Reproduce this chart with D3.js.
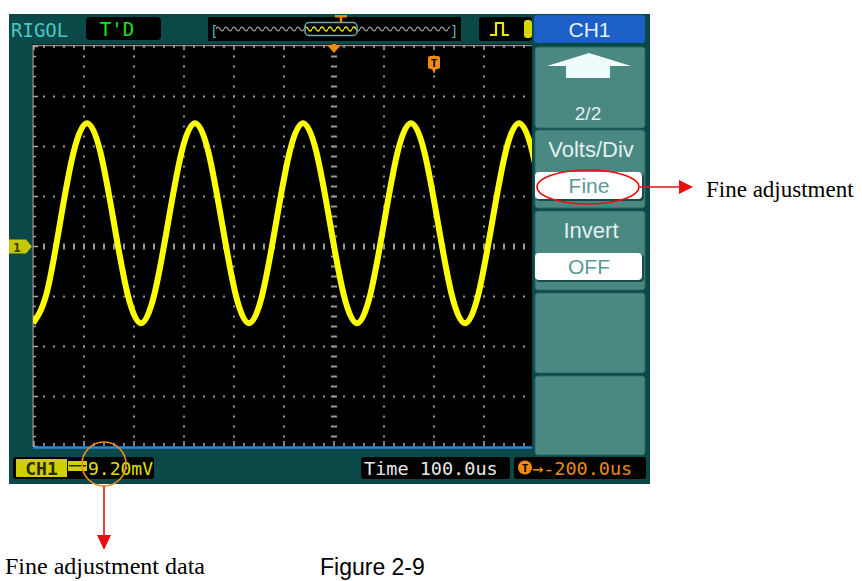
<!DOCTYPE html>
<html><head><meta charset="utf-8">
<script src="https://cdn.jsdelivr.net/npm/d3@7"></script>
<style>body{margin:0;background:#fff}svg{display:block}</style>
</head><body>
<svg id="c" width="862" height="581"></svg>
<script>
// ---- data ----
const timeUs = [-602,-575,-548,-521,-494,-467,-440,-413,-386,-359,-332,-305,-278,-251,-224,-197,-170,-143,-116,-89,-62,-35,-8,19,46,73,100,127,154,181,208,235,262,289,316,343,370,397,424];
const ch1mV  = [-14.1,-8.7,4.3,17.3,22.7,17.3,4.3,-8.7,-14.1,-8.7,4.3,17.3,22.7,17.3,4.3,-8.7,-14.1,-8.7,4.3,17.3,22.7,17.3,4.3,-8.7,-14.1,-8.7,4.3,17.3,22.7,17.3,4.3,-8.7,-14.1,-8.7,4.3,17.3,22.7,17.3,4.3];
const voltsPerDiv = 9.2;      // mV
const timePerDiv = 100;       // us
const hDivs = 12, vDivs = 8;
const menuTitle = "CH1";
const menuItems = [
  {label:"2/2", value:null, arrow:true},
  {label:"Volts/Div", value:"Fine"},
  {label:"Invert", value:"OFF"},
  {label:null, value:null},
  {label:null, value:null}
];
const statusTexts = {ch:"CH1", volts:"9.20mV", time:"Time 100.0us", trig:"\u2192-200.0us", mode:"T'D", brand:"RIGOL"};
const notes = {fine:"Fine adjustment", data:"Fine adjustment data", fig:"Figure 2-9"};

// ---- drawing ----
const svg = d3.select("#c");
const mono = "'DejaVu Sans Mono', monospace";
const sans = "'Liberation Sans', Arial, sans-serif";
const serif = "'Liberation Serif','Times New Roman',serif";

// scope frame
svg.append("rect").attr("x",9).attr("y",14).attr("width",641).attr("height",470).attr("fill","#0b4848");

// grid area
const gx0=34, gy0=46.5, div=50;
const x = d3.scaleLinear().domain([-hDivs/2*timePerDiv, hDivs/2*timePerDiv]).range([gx0, gx0+hDivs*div]);
const y = d3.scaleLinear().domain([-vDivs/2*voltsPerDiv, vDivs/2*voltsPerDiv]).range([gy0+vDivs*div, gy0]);
const visR = 532;
svg.append("rect").attr("x",32).attr("y",44).attr("width",visR-32).attr("height",404).attr("fill","#000");
const defs = svg.append("defs");
defs.append("clipPath").attr("id","gc").append("rect").attr("x",33).attr("y",45).attr("width",visR-33).attr("height",402);

const grid = svg.append("g").attr("clip-path","url(#gc)");
const dotC = "#9a9a9a";
for (let k=1;k<hDivs;k++){
  const xx = x(-hDivs/2*timePerDiv + k*timePerDiv);
  if (xx>visR) continue;
  const center = (k===hDivs/2);
  for (let yy=gy0+10; yy<gy0+vDivs*div; yy+=10){
    if (center) grid.append("rect").attr("x",xx-3).attr("y",yy-1).attr("width",6).attr("height",2).attr("fill",dotC);
    else grid.append("rect").attr("x",xx-1).attr("y",yy-1).attr("width",2).attr("height",2).attr("fill",dotC);
  }
}
for (let k=1;k<vDivs;k++){
  const yy = y(-vDivs/2*voltsPerDiv + k*voltsPerDiv);
  const center = (k===vDivs/2);
  for (let xx=gx0+10; xx<visR; xx+=10){
    if (center) grid.append("rect").attr("x",xx-1).attr("y",yy-3).attr("width",2).attr("height",6).attr("fill",dotC);
    else grid.append("rect").attr("x",xx-1).attr("y",yy-1).attr("width",2).attr("height",2).attr("fill",dotC);
  }
}
// border ruler
svg.append("line").attr("x1",33).attr("x2",33).attr("y1",45).attr("y2",447).attr("stroke","#8a8a8a").attr("stroke-width",1.5);
svg.append("line").attr("x1",33).attr("x2",visR).attr("y1",45.5).attr("y2",45.5).attr("stroke","#8a8a8a").attr("stroke-width",1.5);
for (let xx=gx0; xx<visR; xx+=10){
  const major = ((xx-gx0)%50===0);
  svg.append("rect").attr("x",xx-0.75).attr("y",45).attr("width",1.5).attr("height",major?5:3).attr("fill","#aaa");
  svg.append("rect").attr("x",xx-0.75).attr("y",major?441:443).attr("width",1.5).attr("height",major?5:3).attr("fill","#aaa");
}
for (let yy=gy0; yy<=gy0+vDivs*div; yy+=10){
  const major = ((yy-gy0)%50===0);
  svg.append("rect").attr("x",33).attr("y",yy-0.75).attr("width",major?5:3).attr("height",1.5).attr("fill","#aaa");
}
svg.append("line").attr("x1",33).attr("x2",visR).attr("y1",447.5).attr("y2",447.5).attr("stroke","#2a86e0").attr("stroke-width",2.5);

// waveform
const line = d3.line().x((d,i)=>x(timeUs[i])).y((d,i)=>y(ch1mV[i])).curve(d3.curveNatural);
svg.append("path").attr("clip-path","url(#gc)").attr("d",line(ch1mV))
  .attr("fill","none").attr("stroke","#ffff00").attr("stroke-width",6).attr("stroke-linejoin","round");

// ch1 ground marker
const y0 = y(0);
svg.append("path").attr("d",`M9,${y0-7}H26L32,${y0}L26,${y0+7}H9Z`).attr("fill","#c8c800");
svg.append("text").attr("x",17).attr("y",y0+5).attr("font-family",mono).attr("font-size",13).attr("font-weight","bold").attr("fill","#3a3a00").attr("text-anchor","middle").text("1");

// trigger position marker and T marker
const xc = x(0);
svg.append("path").attr("d",`M${xc-7},45H${xc+7}L${xc},53Z`).attr("fill","#f08a10");
svg.append("rect").attr("x",xc-2).attr("y",44).attr("width",4).attr("height",4).attr("fill","#f08a10");
const xt = x(200);
svg.append("rect").attr("x",xt-6).attr("y",56).attr("width",12).attr("height",13).attr("rx",2).attr("fill","#f08a10");
svg.append("text").attr("x",xt).attr("y",66.5).attr("font-family",mono).attr("font-size",11).attr("font-weight","bold").attr("fill","#000").attr("text-anchor","middle").text("T");
svg.append("path").attr("d",`M${xt-2},69H${xt+2}L${xt},74Z`).attr("fill","#f08a10");

// top bar
svg.append("text").attr("x",11).attr("y",37).attr("font-family",mono).attr("font-size",19).attr("fill","#4cc6c6").text(statusTexts.brand);
svg.append("rect").attr("x",86).attr("y",17).attr("width",75).attr("height",23).attr("rx",4).attr("fill","#000");
svg.append("text").attr("x",117).attr("y",36).attr("font-family",mono).attr("font-size",19).attr("fill","#1ee01e").attr("text-anchor","middle").text(statusTexts.mode);
svg.append("rect").attr("x",208).attr("y",17).attr("width",253).attr("height",24).attr("fill","#000");
const pat = defs.append("pattern").attr("id","wv").attr("patternUnits","userSpaceOnUse").attr("width",8).attr("height",8).attr("x",0).attr("y",25);
pat.append("path").attr("d","M0,4 Q2,0 4,4 T8,4").attr("fill","none").attr("stroke","#a8a8a8").attr("stroke-width",1.2);
const patY = defs.append("pattern").attr("id","wvy").attr("patternUnits","userSpaceOnUse").attr("width",8).attr("height",8).attr("x",0).attr("y",25);
patY.append("path").attr("d","M0,4 Q2,0 4,4 T8,4").attr("fill","none").attr("stroke","#e8e800").attr("stroke-width",1.4);
svg.append("rect").attr("x",216).attr("y",25).attr("width",234).attr("height",8).attr("fill","url(#wv)");
svg.append("text").attr("x",210).attr("y",36).attr("font-family",mono).attr("font-size",14).attr("fill","#58b8b8").text("[");
svg.append("text").attr("x",450).attr("y",36).attr("font-family",mono).attr("font-size",14).attr("fill","#58b8b8").text("]");
svg.append("rect").attr("x",306).attr("y",25).attr("width",50).attr("height",8).attr("fill","#000");
svg.append("rect").attr("x",306).attr("y",25).attr("width",50).attr("height",8).attr("fill","url(#wvy)");
svg.append("rect").attr("x",305).attr("y",22.5).attr("width",52).attr("height",13).attr("rx",4).attr("fill","none").attr("stroke","#6fa8a8").attr("stroke-width",1.5);
svg.append("rect").attr("x",335).attr("y",15).attr("width",12).attr("height",2.5).attr("fill","#f08a10");
svg.append("rect").attr("x",339.8).attr("y",15).attr("width",2.5).attr("height",8).attr("fill","#f08a10");
svg.append("rect").attr("x",479).attr("y",17).attr("width",53).attr("height",24).attr("rx",3).attr("fill","#000");
svg.append("path").attr("d","M490,35H496V23H503V35H509").attr("fill","none").attr("stroke","#e8e800").attr("stroke-width",2.2);
svg.append("rect").attr("x",524).attr("y",20).attr("width",8).attr("height",18).attr("rx",3).attr("fill","#d8d800");

// right menu
svg.append("rect").attr("x",534).attr("y",15).attr("width",111).attr("height",28).attr("rx",3).attr("fill","#1c5fc6");
svg.append("text").attr("x",589.5).attr("y",37).attr("font-family",sans).attr("font-size",21).attr("fill","#e4f0f8").attr("text-anchor","middle").text(menuTitle);
const btnTops = [47,130,211,293,376];
const btnBots = [128,208,290,373,455];
menuItems.forEach((m,i)=>{
  const t=btnTops[i], b=btnBots[i];
  svg.append("rect").attr("x",535).attr("y",t).attr("width",110).attr("height",b-t).attr("rx",3).attr("fill","#4a8882").attr("stroke","#2f6763").attr("stroke-width",1);
  if (m.arrow){
    svg.append("path").attr("d","M589,53L631,66H610V78H566V66H547Z").attr("fill","#f0fcfc");
    svg.append("text").attr("x",588).attr("y",120).attr("font-family",sans).attr("font-size",19).attr("fill","#e4f0f0").attr("text-anchor","middle").text(m.label);
  } else if (m.label){
    svg.append("text").attr("x",591).attr("y",t+27).attr("font-family",sans).attr("font-size",22).attr("fill","#e4f0f0").attr("text-anchor","middle").text(m.label);
  }
  if (m.value){
    const vt = t+42;
    svg.append("rect").attr("x",536).attr("y",vt+1).attr("width",108).attr("height",28).attr("rx",4).attr("fill","#1d4a48");
    svg.append("rect").attr("x",535).attr("y",vt).attr("width",107).attr("height",27).attr("rx",4).attr("fill","#ffffff");
    svg.append("text").attr("x",589).attr("y",vt+21).attr("font-family",sans).attr("font-size",21).attr("fill","#5a9a96").attr("text-anchor","middle").text(m.value);
  }
});

// bottom status
svg.append("rect").attr("x",13).attr("y",457).attr("width",141).attr("height",22).attr("rx",3).attr("fill","#000");
svg.append("rect").attr("x",16).attr("y",459).attr("width",51).attr("height",18).attr("fill","#d0d000");
svg.append("text").attr("x",41.5).attr("y",475).attr("font-family",mono).attr("font-size",18).attr("font-weight","bold").attr("fill","#2a2a00").attr("text-anchor","middle").text(statusTexts.ch);
svg.append("rect").attr("x",68).attr("y",461).attr("width",19).attr("height",10).attr("fill","#d0d000");
svg.append("rect").attr("x",69).attr("y",465).attr("width",17).attr("height",1.5).attr("fill","#2a2a00");
svg.append("text").attr("x",88).attr("y",475).attr("font-family",mono).attr("font-size",18).attr("fill","#e0e000").text(statusTexts.volts);
svg.append("rect").attr("x",361).attr("y",457).attr("width",149).attr("height",22).attr("rx",3).attr("fill","#000");
svg.append("text").attr("x",364).attr("y",475).attr("font-family",mono).attr("font-size",18.5).attr("fill","#e8e8e8").attr("xml:space","preserve").text(statusTexts.time);
svg.append("rect").attr("x",514).attr("y",457).attr("width",132).attr("height",22).attr("rx",3).attr("fill","#000");
svg.append("circle").attr("cx",525).attr("cy",467.5).attr("r",7).attr("fill","#f08a10");
svg.append("text").attr("x",525).attr("y",472).attr("font-family",mono).attr("font-size",11).attr("font-weight","bold").attr("fill","#000").attr("text-anchor","middle").text("T");
svg.append("text").attr("x",532).attr("y",475).attr("font-family",mono).attr("font-size",18.5).attr("fill","#f08a10").text(statusTexts.trig);

// annotations
svg.append("ellipse").attr("cx",588).attr("cy",187).attr("rx",51).attr("ry",17).attr("fill","none").attr("stroke","#e81010").attr("stroke-width",1.6);
svg.append("line").attr("x1",640).attr("x2",681).attr("y1",187).attr("y2",187).attr("stroke","#e81010").attr("stroke-width",1.6);
svg.append("path").attr("d","M679,180L693,187L679,194Z").attr("fill","#e81010");
svg.append("text").attr("x",706).attr("y",197).attr("font-family",serif).attr("font-size",23).attr("fill","#000").text(notes.fine);

svg.append("circle").attr("cx",104).attr("cy",464).attr("r",22).attr("fill","none").attr("stroke","#f0901a").attr("stroke-width",1.6);
svg.append("line").attr("x1",104).attr("x2",104).attr("y1",486).attr("y2",537).attr("stroke","#e81010").attr("stroke-width",1.6);
svg.append("path").attr("d","M97,535L111,535L104,550Z").attr("fill","#e81010");
svg.append("text").attr("x",5).attr("y",574).attr("font-family",serif).attr("font-size",24).attr("fill","#000").text(notes.data);
svg.append("text").attr("x",320).attr("y",575).attr("font-family",sans).attr("font-size",23).attr("fill","#000").text(notes.fig);
</script>
</body></html>
